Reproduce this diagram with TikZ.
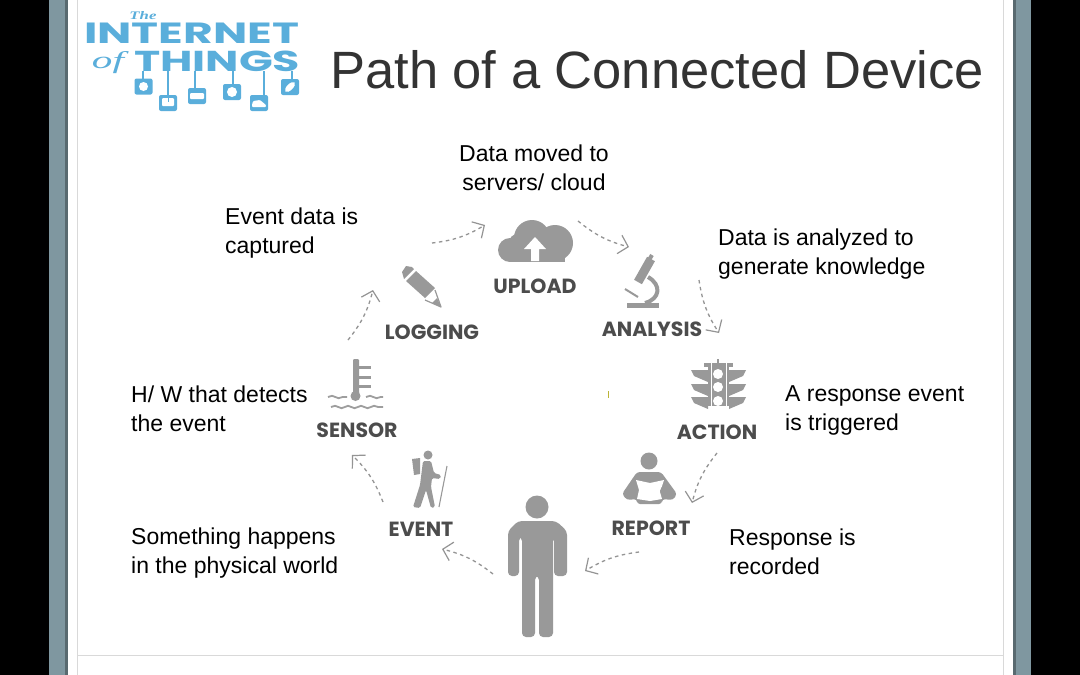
\documentclass[tikz,border=0pt]{standalone}
\usepackage{fontspec}
\setmainfont{Liberation Sans}
\newfontfamily\iconfont{Poppins}
\newfontfamily\logoserif{Liberation Serif}
\usetikzlibrary{arrows.meta,decorations.pathmorphing}

\begin{document}
\begin{tikzpicture}[x=1pt,y=-1pt]
\tikzset{t/.style={anchor=west,align=left,inner sep=0pt,text=black,font=\fontsize{23}{29}\selectfont}}
\tikzset{l/.style={inner sep=0pt,text=black!70,font=\iconfont\bfseries\fontsize{20.5}{22}\selectfont}}
\tikzset{a/.style={draw=black!42,line width=1.3pt,dash pattern=on 3.5pt off 3.5pt,-{Straight Barb[length=9pt,width=19pt,line width=1.2pt]}}}
\tikzset{g/.style={fill=black!40}}
\tikzset{b/.style={fill=logoblue}}
\tikzset{w/.style={draw=black!38,line width=1.8pt,decorate,decoration={snake,amplitude=1.2pt,segment length=13pt}}}
\definecolor{logoblue}{HTML}{5AAEDB}
\definecolor{frame}{HTML}{7F97A0}

\useasboundingbox (0,0) rectangle (1080,675);
\fill[black] (0,0) rectangle (1080,675);
\fill[frame] (49,0) rectangle (1031,675);
\fill[frame!70!black] (65,0) rectangle (1016,675);
\fill[white] (68,0) rectangle (1013,675);
\draw[black!15,line width=1pt] (77,0)--(77,675);
\draw[black!15,line width=1pt] (1003,0)--(1003,675);
\draw[black!15,line width=1pt] (77,655)--(1003,655);

%logo
\node[inner sep=0pt,text=logoblue] (the) at (143,16) {\resizebox{27pt}{8pt}{\logoserif\itshape\bfseries The}};
\node[inner sep=0pt,anchor=west,text=logoblue] (internet) at (84,33.5) {\resizebox{215pt}{20.5pt}{\iconfont\bfseries INTERNET}};
\node[inner sep=0pt,anchor=west,text=logoblue] (things) at (134,61.5) {\resizebox{166pt}{20.5pt}{\iconfont\bfseries THINGS}};
\node[inner sep=0pt,text=logoblue] (of) at (108,63) {\resizebox{32pt}{17pt}{\logoserif\itshape of}};
\foreach \x/\y/\s in {143.5/86.5/143,168/103/168,197/96/195,232/92/233,259/103/264,290/87/292}{
  \draw[logoblue,line width=1.3pt] (\s,71)--(\s,\y-7);
  \fill[b,rounded corners=2pt] (\x-9,\y-8) rectangle (\x+9,\y+8);
}
\fill[white] (143.5,86.5) circle (4.5);
\fill[white,rounded corners=1pt] (162,98) rectangle (174,106);
\fill[logoblue] (167.5,98) rectangle (168.5,102);
\fill[white,rounded corners=1pt] (190,93) rectangle (204,99);
\fill[white] (232,92) circle (5);
\fill[white,rounded corners=1pt] (252,105)--(253,101)--(260,100)--(266,105)--(266,107)--(252,107)--cycle;
\fill[white,rotate around={45:(290,87)}] (290,87) ellipse (6.5 and 3);

\node[inner sep=0pt,anchor=west,text=black!80,font=\fontsize{52.5}{52}\selectfont] (title) at (330,70) {Path of a Connected Device};

%captions
\node[t,anchor=center,align=center] (moved) at (534,168) {Data moved to\\servers/ cloud};
\node[t] (captured) at (225,233) {Event data is\\captured};
\node[t] (analyzed) at (718,254) {Data is analyzed to\\generate knowledge};
\node[t] (detects) at (131,409) {H/ W that detects\\the event};
\node[t] (triggered) at (785,410) {A response event\\is triggered};
\node[t] (happens) at (131,553) {Something happens\\in the physical world};
\node[t] (recorded) at (729,552) {Response is\\recorded};

%icon labels
\node[l] (upload) at (535,286) {UPLOAD};
\node[l] (logging) at (432,332) {LOGGING};
\node[l] (analysis) at (652,329) {ANALYSIS};
\node[l] (action) at (717,432) {ACTION};
\node[l] (sensor) at (357,430) {SENSOR};
\node[l] (event) at (421,529) {EVENT};
\node[l] (report) at (651,528) {REPORT};

%cloud
\begin{scope}
\clip (490,215) rectangle (580,261);
\fill[g] (510,250) circle (12);
\fill[g] (520,245) circle (12);
\fill[g] (532,238) circle (18);
\fill[g] (555,243) circle (18);
\fill[g] (510,250) rectangle (565,262);
\end{scope}
\fill[white] (535,237)--(546,249)--(539,249)--(539,261)--(531,261)--(531,249)--(524,249)--cycle;

%pencil
\fill[g] (404,279)--(414,269)--(412,267)--(406,266)--(402,272)--cycle;
\fill[g] (406,281)--(416,271)--(435,288)--(425,298)--cycle;
\draw[black!40,line width=1.2pt,line join=round] (435,290)--(441,307)--(425,300);
\fill[black!40] (441,307)--(437,298)--(432,303)--cycle;

%microscope
\fill[g] (627,303) rectangle (659,308);
\draw[black!40,line width=9pt] (651,259)--(638,282);
\draw[black!40,line width=4pt] (652,255)--(649,260);
\draw[black!40,line width=2pt] (625,289)--(638,297);
\draw[black!40,line width=4pt] (648,277) .. controls (662,285) and (660,299) .. (645,303);

%traffic light
\fill[g] (704,363) rectangle (733,367);
\fill[g] (708,363) rectangle (729,406);
\fill[g] (717,359) rectangle (719,364);
\foreach \y in {370,384,397}{
  \fill[g] (708,\y)--(691,\y)--(694,\y+6)--(708,\y+12)--cycle;
  \fill[g] (729,\y)--(746,\y)--(743,\y+6)--(729,\y+12)--cycle;
}
\foreach \y in {374,387,401}{\fill[white] (718,\y) circle (5);}
\draw[white,line width=1pt] (711,363)--(711,406) (726,363)--(726,406);

%thermometer
\fill[g,rounded corners=1pt] (353,359) rectangle (359,396);
\fill[g] (355.5,396) circle (5);
\foreach \y in {367,377,386}{\fill[g] (359,\y-1.5) rectangle (371,\y+1.5);}
\draw[w] (328,397)--(347,397);
\draw[w] (366,397)--(383,397);
\draw[w] (331,407)--(383,407);

%hiker
\fill[g] (428,455) circle (4.5);
\fill[g] (412,459)--(420,458)--(420,474)--(414,475)--cycle;
\fill[g,rounded corners=1.5pt] (423,461)--(431,461)--(434,473)--(441,475)--(440,479)--(432,478)--(431,487)--(435,507)--(431,508)--(426,490)--(420,508)--(413,507)--(420,485)--cycle;
\draw[black!40,line width=1.1pt] (447,466)--(439,507);

%reader
\fill[g] (649,461) circle (8.5);
\fill[g,rounded corners=3pt] (637,472)--(661,472)--(677,494)--(673,500)--(662,499)--(662,504)--(637,504)--(637,499)--(627,500)--(622,494)--cycle;
\fill[white] (636,480)--(650,483)--(664,480)--(660,492)--(662,499)--(650,501)--(637,499)--(639,490)--cycle;
\fill[g] (633,491) circle (5) (665,491) circle (5);

%person
\fill[g] (537,507) circle (11.5);
\fill[g,rounded corners=4pt] (518,521)--(556,521)--(567,531)--(567,576)--(554,576)--(554,537)--(553,537)--(553,637)--(539,637)--(539,576)--(535,576)--(535,637)--(522,637)--(522,537)--(519,537)--(519,576)--(508,576)--(508,531)--cycle;

\fill[yellow!70!black] (607.5,391) rectangle (609,398);

%arrows
\coordinate (s1) at (348,340); \coordinate (e1) at (373,290);
\coordinate (s2) at (432,243); \coordinate (e2) at (485,225);
\coordinate (s3) at (578,221); \coordinate (e3) at (629,247);
\coordinate (s4) at (699,280); \coordinate (e4) at (719,333);
\coordinate (s5) at (717,453); \coordinate (e5) at (692,503);
\coordinate (s6) at (639,552); \coordinate (e6) at (585,571);
\coordinate (s7) at (493,574); \coordinate (e7) at (442,549);
\coordinate (s8) at (383,502); \coordinate (e8) at (352,455);
\foreach \i in {1,...,8}{\draw[a] (s\i) to[bend right=12] (e\i);}
\end{tikzpicture}
\end{document}
